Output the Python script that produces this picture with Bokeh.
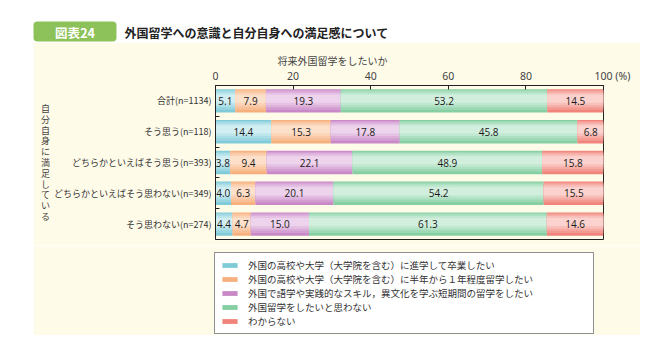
from bokeh.plotting import figure
from bokeh.layouts import column, row
from bokeh.models import (Range1d, FixedTicker, BoxAnnotation,
                          Label, Legend, LegendItem, Spacer)
from bokeh.core.properties import value
from bokeh.embed import file_html
from bokeh.resources import INLINE

# ---------------- data ----------------
categories = ["合計(n=1134)", "そう思う(n=118)", "どちらかといえばそう思う(n=393)",
              "どちらかといえばそう思わない(n=349)", "そう思わない(n=274)"]
s_graduate = [5.1, 14.4, 3.8, 4.0, 4.4]
s_halfyear = [7.9, 15.3, 9.4, 6.3, 4.7]
s_short = [19.3, 17.8, 22.1, 20.1, 15.0]
s_no = [53.2, 45.8, 48.9, 54.2, 61.3]
s_unknown = [14.5, 6.8, 15.8, 15.5, 14.6]
series_names = [
    "外国の高校や大学（大学院を含む）に進学して卒業したい",
    "外国の高校や大学（大学院を含む）に半年から１年程度留学したい",
    "外国で語学や実践的なスキル，異文化を学ぶ短期間の留学をしたい",
    "外国留学をしたいと思わない",
    "わからない",
]
x_ticks = [0, 20, 40, 60, 80, 100]
x_tick_labels = {100: "\u2007\u2007\u2007100 (%)"}
title_text = "外国留学への意識と自分自身への満足感について"
badge_text = "図表24"
x_title = "将来外国留学をしたいか"
y_title = "自分自身に満足している"

# ---------------- style ----------------
W = 665
HEAD_H = 42
PANEL_L, PANEL_R, PANEL_B = 33, 640, 335
SPLIT = 245                # page y where the legend strip starts
FX0, FX1 = 215, 603        # page px of 0% and 100%
FY0, FY1 = 85, 239         # page px of top / bottom of bar frame
LEG_L, LEG_T = 214, 252    # page px of legend box top-left
BEIGE = "#fffbe9"
JP = "Noto Sans CJK JP"
base_cols = ["#7fcbd8", "#f6b07e", "#c889c6", "#86cfa2", "#f0847a"]
light_cols = ["#dff4f7", "#fee8d8", "#f5e0f4", "#e0f5e8", "#fde0dc"]


def mix(c1, c2, t):
    a = [int(c1[i:i + 2], 16) for i in (1, 3, 5)]
    b = [int(c2[i:i + 2], 16) for i in (1, 3, 5)]
    return "#" + "".join(f"{round(x + (y - x) * t):02x}" for x, y in zip(a, b))


def bare(fig, bg):
    fig.outline_line_color = None
    fig.grid.visible = False
    fig.background_fill_color = bg
    fig.border_fill_color = bg


# ---------------- header ----------------
head = figure(width=W, height=HEAD_H, output_backend="svg", toolbar_location=None,
              x_range=Range1d(0, W), y_range=Range1d(HEAD_H, 0),
              x_axis_location=None, y_axis_location=None,
              min_border=0, min_border_left=0, min_border_right=0,
              min_border_top=0, min_border_bottom=0)
bare(head, "white")
head.add_layout(BoxAnnotation(left=33, right=116, top=21, bottom=41,
                              fill_color="#8cc259", fill_alpha=1, line_color=None,
                              border_radius=4))
head.add_layout(Label(x=74.5, y=31.5, text=badge_text, text_color="white",
                      text_font=JP, text_font_style="bold", text_font_size="12.5px",
                      text_align="center", text_baseline="middle"))
head.add_layout(Label(x=124, y=31.5, text=title_text, text_color="#222222",
                      text_font=JP, text_font_style="bold", text_font_size="12px",
                      text_align="left", text_baseline="middle"))

# ---------------- main chart ----------------
n = len(categories)
p = figure(width=PANEL_R - PANEL_L, height=SPLIT - HEAD_H,
           output_backend="svg", toolbar_location=None,
           x_range=Range1d(0, 100), y_range=Range1d(n - 0.5, -0.5),
           x_axis_location="above",
           min_border_left=FX0 - PANEL_L, min_border_right=PANEL_R - FX1,
           min_border_top=FY0 - HEAD_H, min_border_bottom=SPLIT - FY1)
p.border_fill_color = BEIGE
p.background_fill_color = BEIGE
p.outline_line_color = "#222222"
p.outline_line_width = 1
p.grid.visible = False

p.title.text = x_title
p.title.align = "left"
p.title.offset = 62
p.title.standoff = -5
p.title.text_font = JP
p.title.text_font_size = "10px"
p.title.text_font_style = "normal"
p.title.text_color = "#444444"

series = [s_graduate, s_halfyear, s_short, s_no, s_unknown]
rows = list(range(n))
left = [0.0] * n
lab_x, lab_y, lab_t = [], [], []
layers = [(0.76, 0.0, 0.0), (0.64, 0.03, 0.25), (0.52, 0.05, 0.45),
          (0.40, 0.06, 0.65), (0.26, 0.07, 0.85)]
for k, vals in enumerate(series):
    right = [l + v for l, v in zip(left, vals)]
    for (h, shift, t) in layers:
        p.hbar(y=[rr - shift for rr in rows], left=left, right=right, height=h,
               fill_color=mix(base_cols[k], light_cols[k], t), line_color=None)
    for i in rows:
        lab_x.append((left[i] + right[i]) / 2)
        lab_y.append(i)
        lab_t.append(f"{vals[i]:.1f}")
    left = right

p.text(x=lab_x, y=lab_y, text=lab_t, text_font=value("Open Sans"),
       text_font_size="10px", text_color="#1a1a1a",
       text_align="center", text_baseline="middle")

xa = p.xaxis[0]
xa.ticker = FixedTicker(ticks=x_ticks)
xa.major_label_overrides = x_tick_labels
xa.major_tick_in = 4
xa.major_tick_out = 0
xa.minor_tick_line_color = None
xa.axis_line_color = "#222222"
xa.major_tick_line_color = "#222222"
xa.major_label_standoff = 3
xa.major_label_text_font = "Noto Sans"
xa.major_label_text_font_size = "10.5px"
xa.major_label_text_color = "#444444"

ya = p.yaxis[0]
ya.ticker = FixedTicker(ticks=rows, minor_ticks=[r + 0.5 for r in rows[:-1]])
ya.major_label_overrides = {i: c for i, c in enumerate(categories)}
ya.major_tick_in = 0
ya.major_tick_out = 0
ya.minor_tick_in = 4
ya.minor_tick_out = 0
ya.minor_tick_line_color = "#222222"
ya.axis_line_color = "#222222"
ya.major_label_standoff = 4
ya.major_label_text_font = JP
ya.major_label_text_font_size = "9px"
ya.major_label_text_color = "#333333"
ya.axis_label = "\n".join(y_title)
ya.axis_label_orientation = "horizontal"
ya.axis_label_standoff = 1
ya.axis_label_text_font = JP
ya.axis_label_text_font_size = "9px"
ya.axis_label_text_font_style = "normal"
ya.axis_label_text_color = "#444444"
ya.axis_label_text_line_height = 0.83

# ---------------- legend strip ----------------
lg = figure(width=PANEL_R - PANEL_L, height=PANEL_B - SPLIT,
            output_backend="svg", toolbar_location=None,
            x_range=Range1d(0, 1), y_range=Range1d(0, 1),
            x_axis_location=None, y_axis_location=None,
            min_border=0, min_border_left=LEG_L - PANEL_L, min_border_right=0,
            min_border_top=LEG_T - SPLIT, min_border_bottom=0)
bare(lg, BEIGE)
items = []
for k, name in enumerate(series_names):
    # off-range proxy glyph, only used to draw the legend swatch
    proxy = lg.hbar(y=[-10], left=[0], right=[1], height=0.5,
                    fill_color=base_cols[k], line_color=None)
    items.append(LegendItem(label=name, renderers=[proxy]))
legend = Legend(items=items, location="top_left",
                glyph_width=19, glyph_height=6, label_standoff=9,
                label_height=12, label_width=340, spacing=0, padding=5, margin=0,
                label_text_font=JP, label_text_font_size="9.5px",
                label_text_line_height=0.78,
                label_text_color="#333333",
                border_line_color="#222222", border_line_width=1,
                background_fill_color="white", background_fill_alpha=1)
lg.add_layout(legend, "center")

layout = column(head,
                row(Spacer(width=PANEL_L, height=SPLIT - HEAD_H), p),
                row(Spacer(width=PANEL_L, height=PANEL_B - SPLIT), lg))
open("out.html", "w").write(file_html(layout, INLINE))
